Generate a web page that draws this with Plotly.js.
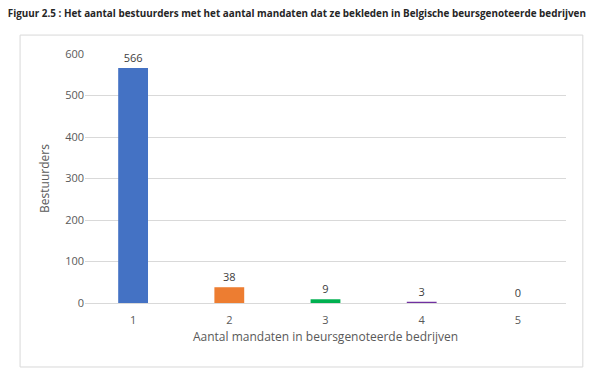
<!DOCTYPE html>
<html>
<head>
<meta charset="utf-8">
<script src="https://cdn.plot.ly/plotly-3.0.1.min.js"></script>
<style>html,body{margin:0;padding:0;background:#fff;}#chart{width:600px;height:384px;}</style>
</head>
<body>
<div id="chart"></div>
<script>
const categories = ["1", "2", "3", "4", "5"];
const values = [566, 38, 9, 3, 0];
const barColors = ["#4472C4", "#ED7D31", "#00B050", "#7030A0", "#A5A5A5"];
const yTicks = [0, 100, 200, 300, 400, 500, 600];

const trace = {
  type: "bar",
  x: categories,
  y: values,
  marker: {color: barColors},
  text: values.map(String),
  textposition: "outside",
  cliponaxis: false,
  textfont: {family: "Open Sans, sans-serif", size: 11, color: "#404040"},
  hoverinfo: "none"
};

const layout = {
  width: 600, height: 384,
  margin: {l: 85, r: 34, t: 54, b: 81},
  paper_bgcolor: "#ffffff",
  plot_bgcolor: "#ffffff",
  font: {family: "Open Sans, sans-serif", color: "#595959", size: 11},
  title: {
    text: "<b>Figuur 2.5 : Het aantal bestuurders met het aantal mandaten dat ze bekleden in Belgische beursgenoteerde bedrijven</b>",
    font: {family: "Open Sans, sans-serif", size: 9.9, color: "#262626"},
    x: 0.013, xanchor: "left", xref: "container",
    y: 0.964, yanchor: "middle", yref: "container"
  },
  bargap: 0.69,
  showlegend: false,
  xaxis: {
    type: "category",
    showgrid: false,
    showline: false,
    ticks: "outside",
    ticklen: 7,
    tickcolor: "rgba(0,0,0,0)",
    tickfont: {size: 11, color: "#595959"},
    title: {text: "Aantal mandaten in beursgenoteerde bedrijven", font: {size: 12, color: "#595959"}, standoff: 6}
  },
  yaxis: {
    range: [0, 600],
    tickvals: yTicks,
    showgrid: true,
    gridcolor: "#d9d9d9",
    zeroline: true,
    zerolinecolor: "#d9d9d9",
    showline: false,
    ticks: "",
    ticklen: 0,
    tickfont: {size: 11, color: "#595959"},
    title: {text: "Bestuurders", font: {size: 12, color: "#595959"}, standoff: 12}
  },
  shapes: [{
    type: "rect", xref: "paper", yref: "paper",
    x0: -0.135, x1: 1.035, y0: -0.257, y1: 1.076,
    line: {color: "#d9d9d9", width: 1}, fillcolor: "rgba(0,0,0,0)", layer: "below"
  }]
};

Plotly.newPlot("chart", [trace], layout, {displayModeBar: false, staticPlot: true});
</script>
</body>
</html>
